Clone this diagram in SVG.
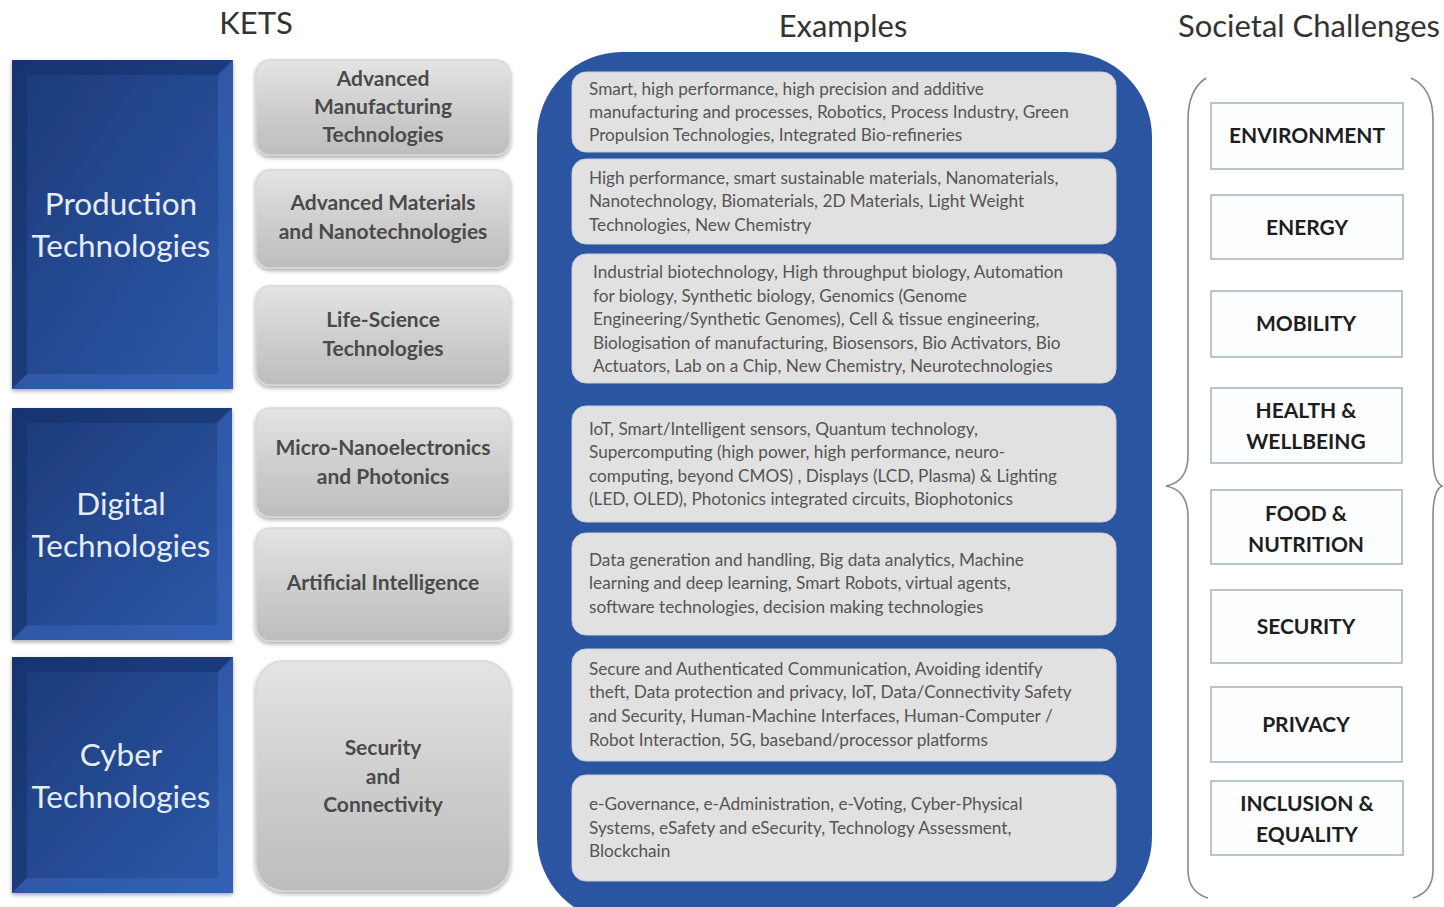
<svg xmlns="http://www.w3.org/2000/svg" width="1444" height="907" viewBox="0 0 1444 907">
<defs>
<linearGradient id="blueG" x1="0" y1="0" x2="1" y2="1">
<stop offset="0" stop-color="#1c3a78"/>
<stop offset="1" stop-color="#2d59aa"/>
</linearGradient>
<linearGradient id="greyG" x1="0" y1="0" x2="0" y2="1">
<stop offset="0" stop-color="#e4e4e4"/>
<stop offset="0.5" stop-color="#cfcfcf"/>
<stop offset="1" stop-color="#bdbdbd"/>
</linearGradient>
<filter id="sh" x="-10%" y="-10%" width="120%" height="125%">
<feGaussianBlur in="SourceAlpha" stdDeviation="2"/>
<feOffset dx="0" dy="2"/>
<feComponentTransfer><feFuncA type="linear" slope="0.35"/></feComponentTransfer>
<feMerge><feMergeNode/><feMergeNode in="SourceGraphic"/></feMerge>
</filter>
</defs>
<style>
.hd{font-family:Lato,"Liberation Sans",sans-serif;font-size:31px;fill:#333;text-anchor:middle}
.bt{font-family:Lato,"Liberation Sans",sans-serif;font-size:31.5px;fill:#e6ecf6;text-anchor:middle}
.gt{font-family:Lato,"Liberation Sans",sans-serif;font-weight:bold;font-size:21px;fill:#4a4a4a;text-anchor:middle}
.et{font-family:Lato,"Liberation Sans",sans-serif;font-size:17.2px;fill:#555}
.ct{font-family:Lato,"Liberation Sans",sans-serif;font-weight:bold;font-size:21px;fill:#1e1e1e;text-anchor:middle}
.blue{fill:url(#blueG)}
.bev{fill:#14306a;opacity:0.55}
.bevl{fill:#3d6bc0;opacity:0.45}
.grey{fill:url(#greyG);stroke:#d8d8d8;stroke-width:1.5}
.ex{fill:#e1e1e1;stroke:#c9cfdc;stroke-width:1}
.ch{fill:#fdfeff;stroke:#a8b6c4;stroke-width:1.6}
.br{fill:none;stroke:#8a8a8a;stroke-width:1.6}
</style>
<rect width="1444" height="907" fill="#ffffff"/>
<text class="hd" x="256" y="34">KETS</text>
<text class="hd" x="843" y="37">Examples</text>
<text class="hd" x="1309" y="37">Societal Challenges</text>

<g id="production">
<rect class="blue" x="12" y="60" width="221" height="329" filter="url(#sh)"/>
<polygon class="bev" points="12,60 233,60 218,75 27,75"/>
<polygon class="bev" points="12,60 27,75 27,374 12,389"/>
<polygon class="bevl" points="233,60 233,389 218,374 218,75"/>
<polygon class="bevl" points="12,389 233,389 218,374 27,374"/>
<text class="bt" x="121" y="215">Production</text>
<text class="bt" x="121" y="257">Technologies</text>
</g>
<g id="digital">
<rect class="blue" x="12" y="408" width="220" height="232" filter="url(#sh)"/>
<polygon class="bev" points="12,408 232,408 217,423 27,423"/>
<polygon class="bev" points="12,408 27,423 27,625 12,640"/>
<polygon class="bevl" points="232,408 232,640 217,625 217,423"/>
<polygon class="bevl" points="12,640 232,640 217,625 27,625"/>
<text class="bt" x="121" y="515">Digital</text>
<text class="bt" x="121" y="557">Technologies</text>
</g>
<g id="cyber">
<rect class="blue" x="12" y="657" width="221" height="236" filter="url(#sh)"/>
<polygon class="bev" points="12,657 233,657 218,672 27,672"/>
<polygon class="bev" points="12,657 27,672 27,878 12,893"/>
<polygon class="bevl" points="233,657 233,893 218,878 218,672"/>
<polygon class="bevl" points="12,893 233,893 218,878 27,878"/>
<text class="bt" x="121" y="766">Cyber</text>
<text class="bt" x="121" y="808">Technologies</text>
</g>

<g id="ket-amt">
<rect class="grey" x="256" y="60" width="254" height="95" rx="14" filter="url(#sh)"/>
<text class="gt" x="383" y="86">Advanced</text>
<text class="gt" x="383" y="114">Manufacturing</text>
<text class="gt" x="383" y="142">Technologies</text>
</g>
<g id="ket-amn">
<rect class="grey" x="256" y="170" width="254" height="98" rx="14" filter="url(#sh)"/>
<text class="gt" x="383" y="210">Advanced Materials</text>
<text class="gt" x="383" y="239">and Nanotechnologies</text>
</g>
<g id="ket-lst">
<rect class="grey" x="256" y="286" width="254" height="99" rx="14" filter="url(#sh)"/>
<text class="gt" x="383" y="327">Life-Science</text>
<text class="gt" x="383" y="356">Technologies</text>
</g>
<g id="ket-mnp">
<rect class="grey" x="256" y="408" width="254" height="109" rx="14" filter="url(#sh)"/>
<text class="gt" x="383" y="455">Micro-Nanoelectronics</text>
<text class="gt" x="383" y="484">and Photonics</text>
</g>
<g id="ket-ai">
<rect class="grey" x="256" y="528" width="254" height="113" rx="14" filter="url(#sh)"/>
<text class="gt" x="383" y="590">Artificial Intelligence</text>
</g>
<g id="ket-sc">
<rect class="grey" x="256" y="661" width="254" height="230" rx="28" filter="url(#sh)"/>
<text class="gt" x="383" y="755">Security</text>
<text class="gt" x="383" y="784">and</text>
<text class="gt" x="383" y="812">Connectivity</text>
</g>

<g id="examples">
<rect x="537" y="52" width="615" height="870" rx="85" fill="#2b54a1"/>
<g id="ex1">
<rect class="ex" x="572" y="72" width="544" height="80" rx="14"/>
<text class="et" x="589" y="95">Smart, high performance, high precision and additive</text>
<text class="et" x="589" y="118">manufacturing and processes, Robotics, Process Industry, Green</text>
<text class="et" x="589" y="141">Propulsion Technologies, Integrated Bio-refineries</text>
</g>
<g id="ex2">
<rect class="ex" x="572" y="159" width="544" height="85" rx="14"/>
<text class="et" x="589" y="184">High performance, smart sustainable materials, Nanomaterials,</text>
<text class="et" x="589" y="207">Nanotechnology, Biomaterials, 2D Materials, Light Weight</text>
<text class="et" x="589" y="231">Technologies, New Chemistry</text>
</g>
<g id="ex3">
<rect class="ex" x="572" y="254" width="544" height="129" rx="14"/>
<text class="et" x="593" y="278">Industrial biotechnology, High throughput biology, Automation</text>
<text class="et" x="593" y="302">for biology, Synthetic biology, Genomics (Genome</text>
<text class="et" x="593" y="325">Engineering/Synthetic Genomes), Cell &amp; tissue engineering,</text>
<text class="et" x="593" y="349">Biologisation of manufacturing, Biosensors, Bio Activators, Bio</text>
<text class="et" x="593" y="372">Actuators, Lab on a Chip, New  Chemistry, Neurotechnologies</text>
</g>
<g id="ex4">
<rect class="ex" x="572" y="406" width="544" height="116" rx="14"/>
<text class="et" x="589" y="435">IoT, Smart/Intelligent sensors, Quantum technology,</text>
<text class="et" x="589" y="458">Supercomputing (high power, high performance, neuro-</text>
<text class="et" x="589" y="482">computing, beyond CMOS) ,  Displays (LCD, Plasma) &amp; Lighting</text>
<text class="et" x="589" y="505">(LED, OLED), Photonics integrated circuits, Biophotonics</text>
</g>
<g id="ex5">
<rect class="ex" x="572" y="533" width="544" height="102" rx="14"/>
<text class="et" x="589" y="566">Data generation and handling, Big data analytics, Machine</text>
<text class="et" x="589" y="589">learning and deep learning, Smart Robots,  virtual agents,</text>
<text class="et" x="589" y="613">software technologies,  decision making technologies</text>
</g>
<g id="ex6">
<rect class="ex" x="572" y="649" width="544" height="112" rx="14"/>
<text class="et" x="589" y="675">Secure and Authenticated Communication, Avoiding identify</text>
<text class="et" x="589" y="698">theft, Data protection and privacy, IoT, Data/Connectivity Safety</text>
<text class="et" x="589" y="722">and Security, Human-Machine Interfaces,  Human-Computer /</text>
<text class="et" x="589" y="746">Robot Interaction,  5G, baseband/processor platforms</text>
</g>
<g id="ex7">
<rect class="ex" x="572" y="775" width="544" height="106" rx="14"/>
<text class="et" x="589" y="810">e-Governance, e-Administration, e-Voting, Cyber-Physical</text>
<text class="et" x="589" y="834">Systems, eSafety and eSecurity, Technology Assessment,</text>
<text class="et" x="589" y="857">Blockchain</text>
</g>
</g>

<g id="connectors">
<path class="br" d="M1206,78 Q1188,90 1188,120 L1188,455 Q1188,482 1166,486 Q1188,490 1188,517 L1188,870 Q1188,892 1208,898"/>
<path class="br" d="M1411,78 Q1433,88 1433,120 L1433,455 Q1433,482 1442,486 Q1433,490 1433,517 L1433,870 Q1433,892 1413,898"/>
</g>

<g id="c-environment"><rect class="ch" x="1211" y="103" width="192" height="66"/><text class="ct" x="1307" y="143">ENVIRONMENT</text></g>
<g id="c-energy"><rect class="ch" x="1211" y="195" width="192" height="64"/><text class="ct" x="1307" y="235">ENERGY</text></g>
<g id="c-mobility"><rect class="ch" x="1211" y="291" width="191" height="66"/><text class="ct" x="1306" y="331">MOBILITY</text></g>
<g id="c-health"><rect class="ch" x="1211" y="388" width="191" height="75"/><text class="ct" x="1306" y="418">HEALTH &amp;</text><text class="ct" x="1306" y="449">WELLBEING</text></g>
<g id="c-food"><rect class="ch" x="1211" y="490" width="191" height="74"/><text class="ct" x="1306" y="521">FOOD &amp;</text><text class="ct" x="1306" y="552">NUTRITION</text></g>
<g id="c-security"><rect class="ch" x="1211" y="590" width="191" height="73"/><text class="ct" x="1306" y="634">SECURITY</text></g>
<g id="c-privacy"><rect class="ch" x="1211" y="687" width="191" height="75"/><text class="ct" x="1306" y="732">PRIVACY</text></g>
<g id="c-inclusion"><rect class="ch" x="1211" y="781" width="192" height="74"/><text class="ct" x="1307" y="811">INCLUSION &amp;</text><text class="ct" x="1307" y="842">EQUALITY</text></g>
</svg>
